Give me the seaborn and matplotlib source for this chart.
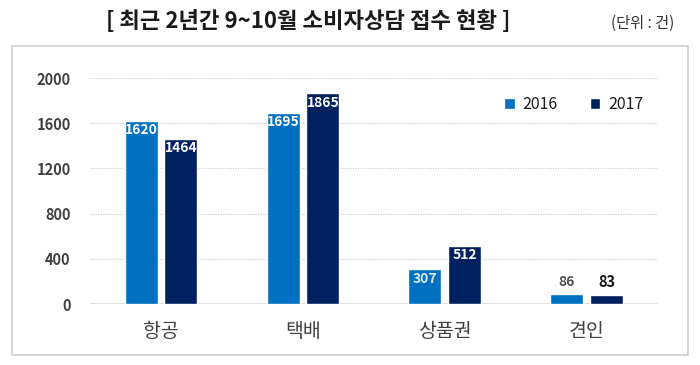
import pandas as pd
import matplotlib.pyplot as plt
import seaborn as sns
from matplotlib.patches import Rectangle

# data
categories = ['항공', '택배', '상품권', '견인']
years = ['2016', '2017']
values_2016 = [1620, 1695, 307, 86]
values_2017 = [1464, 1865, 512, 83]
yticks = [0, 400, 800, 1200, 1600, 2000]

df = pd.DataFrame({
    'category': categories * 2,
    'year': [years[0]] * 4 + [years[1]] * 4,
    'count': values_2016 + values_2017,
})

sns.set_style('white')
plt.rcParams['font.family'] = ['Noto Sans CJK KR', 'DejaVu Sans']

colors = {'2016': '#0070C0', '2017': '#002060'}

fig = plt.figure(figsize=(7, 3.65), dpi=100)
ax = fig.add_axes([0.1286, 0.167, 0.811, 0.619])

sns.barplot(data=df, x='category', y='count', hue='year', palette=colors,
            width=0.56, gap=0.17, saturation=1, ax=ax, legend=True)

ax.set_ylim(0, 2000)
ax.set_xlim(-0.5, 3.5)
ax.set_yticks(yticks)
ax.set_yticklabels([str(t) for t in yticks], fontsize=10.5, fontweight='bold', color='#404040')
ax.tick_params(axis='y', length=0, pad=14)
ax.tick_params(axis='x', length=0, pad=12, labelsize=14, labelcolor='#404040')
ax.set_xlabel('')
ax.set_ylabel('')
for t in ax.get_xticklabels():
    t.set_fontweight('medium')

for y in yticks[1:]:
    ax.axhline(y, color='#d0d0d0', lw=0.9, ls=(0, (1, 1)), zorder=0)
ax.axhline(0, color='#d9d9d9', lw=1.2, zorder=0)
sns.despine(ax=ax, left=True, bottom=True)

# value labels
for container, year in zip(ax.containers, years):
    for bar in container:
        h = bar.get_height()
        cx = bar.get_x() + bar.get_width() / 2
        if h > 200:
            ax.text(cx, h - 20, f'{int(h)}', ha='center', va='top', fontsize=10,
                    fontweight='bold', color='white' if year == '2017' or h > 1000 else '#dbe9f7')
        else:
            ax.text(cx, h + 45, f'{int(h)}', ha='center', va='bottom', fontsize=10.5 if year == '2017' else 10,
                    fontweight='bold', color='#1a1a1a' if year == '2017' else '#505050')

leg = ax.legend(loc='upper right', bbox_to_anchor=(1.0, 0.985), ncol=2, frameon=False,
                fontsize=11.5, handlelength=0.65, handleheight=0.65, handletextpad=0.5,
                columnspacing=2.0, labelcolor='#1a1a1a')

# outer box
fig.patches.append(Rectangle((0.017, 0.027), 0.966, 0.847, transform=fig.transFigure,
                             fill=False, edgecolor='#d0d0d0', lw=1.2))

fig.text(0.44, 0.942, '[ 최근 2년간 9~10월 소비자상담 접수 현황 ]', ha='center', va='center',
         fontsize=16, fontweight='bold', color='#1a1a1a')
fig.text(0.918, 0.937, '(단위 : 건)', ha='center', va='center', fontsize=11, color='#333333')

fig.savefig('out.png', dpi=100)
